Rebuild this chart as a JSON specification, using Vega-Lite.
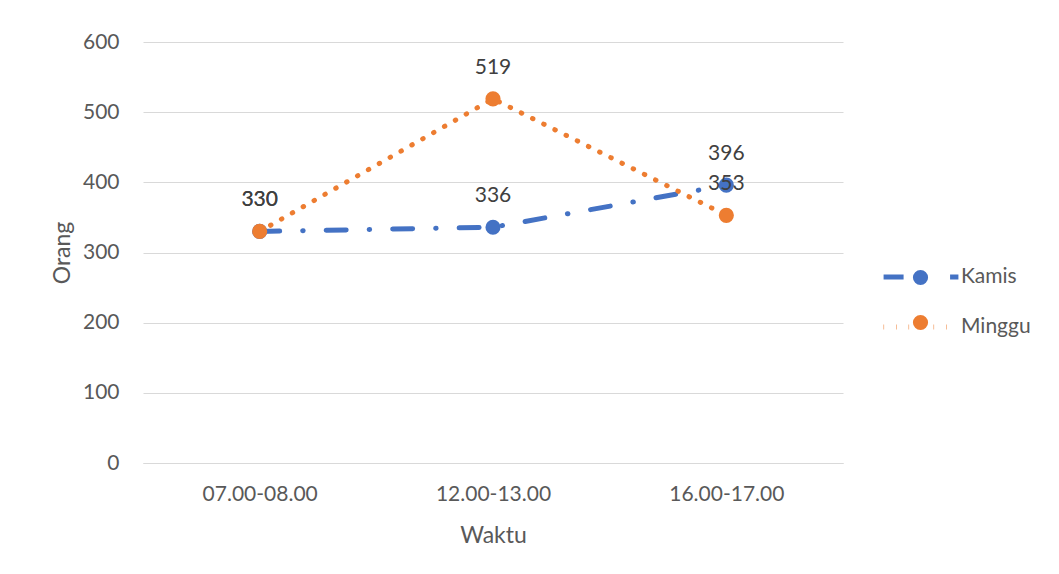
{
  "$schema": "https://vega.github.io/schema/vega-lite/v6.json",
  "width": 700,
  "height": 421,
  "autosize": {"type": "none"},
  "padding": {"left": 143, "top": 42, "right": 216, "bottom": 111},
  "background": "white",
  "config": {
    "font": "Lato",
    "view": {"stroke": null},
    "axis": {"labelColor": "#595959", "titleColor": "#595959", "labelFont": "Lato", "titleFont": "Lato", "titleFontWeight": "normal"}
  },
  "data": {
    "values": [
      {"waktu": "07.00-08.00", "seri": "Kamis", "hari": "Kamis", "orang": 330},
      {"waktu": "12.00-13.00", "seri": "Kamis", "hari": "Kamis", "orang": 336},
      {"waktu": "16.00-17.00", "seri": "Kamis", "hari": "Kamis", "orang": 396},
      {"waktu": "07.00-08.00", "seri": "Minggu", "hari": "Minggu", "orang": 330},
      {"waktu": "12.00-13.00", "seri": "Minggu", "hari": "Minggu", "orang": 519},
      {"waktu": "16.00-17.00", "seri": "Minggu", "hari": "Minggu", "orang": 353}
    ]
  },
  "encoding": {
    "x": {
      "field": "waktu", "type": "ordinal",
      "scale": {"type": "point", "padding": 0.5},
      "axis": {"title": "Waktu", "labelAngle": 0, "labelFontSize": 21, "titleFontSize": 23, "labelPadding": 20, "ticks": false, "domainColor": "#d9d9d9", "titlePadding": 20, "grid": false}
    },
    "y": {
      "field": "orang", "type": "quantitative",
      "scale": {"domain": [0, 600]},
      "axis": {"title": "Orang", "values": [0, 100, 200, 300, 400, 500, 600], "labelFontSize": 21, "titleFontSize": 23, "labelPadding": 24, "ticks": false, "domain": false, "gridColor": "#d9d9d9", "titlePadding": 8}
    }
  },
  "layer": [
    {
      "mark": {"type": "line", "strokeWidth": 5, "strokeCap": "round"},
      "encoding": {
        "stroke": {
          "field": "seri", "type": "nominal",
          "scale": {"domain": ["Kamis", "Minggu"], "range": ["#4472C4", "#ED7D31"]},
          "legend": {"title": null, "orient": "none", "legendX": 738, "legendY": 195, "labelFontSize": 21, "labelColor": "#595959", "symbolType": "stroke", "symbolSize": 5600, "symbolStrokeWidth": 5, "rowPadding": -3, "labelOffset": 0}
        },
        "strokeDash": {
          "field": "seri", "type": "nominal",
          "scale": {"domain": ["Kamis", "Minggu"], "range": [[20, 23, 0.5, 23], [0.5, 12]]},
          "legend": {"title": null, "orient": "none", "legendX": 738, "legendY": 195, "labelFontSize": 21, "labelColor": "#595959", "symbolType": "stroke", "symbolSize": 5600, "symbolStrokeWidth": 5, "rowPadding": -3, "labelOffset": 0}
        }
      }
    },
    {
      "mark": {"type": "point", "filled": true, "size": 230, "opacity": 1, "strokeWidth": 0, "shape": "circle"},
      "encoding": {
        "fill": {
          "field": "hari", "type": "nominal",
          "scale": {"range": ["#4472C4", "#ED7D31"]},
          "legend": {"title": null, "orient": "none", "legendX": 767, "legendY": 225, "labelFontSize": 21, "labelExpr": "' '", "labelColor": "rgba(0,0,0,0)", "symbolType": "circle", "symbolSize": 230, "symbolOpacity": 1, "symbolStrokeWidth": 0, "rowPadding": 23, "labelOffset": 4}
        }
      }
    },
    {
      "mark": {"type": "text", "dy": -31, "fontSize": 21, "font": "Lato"},
      "encoding": {"text": {"field": "orang", "type": "quantitative"}, "color": {"value": "#404040"}}
    }
  ]
}
